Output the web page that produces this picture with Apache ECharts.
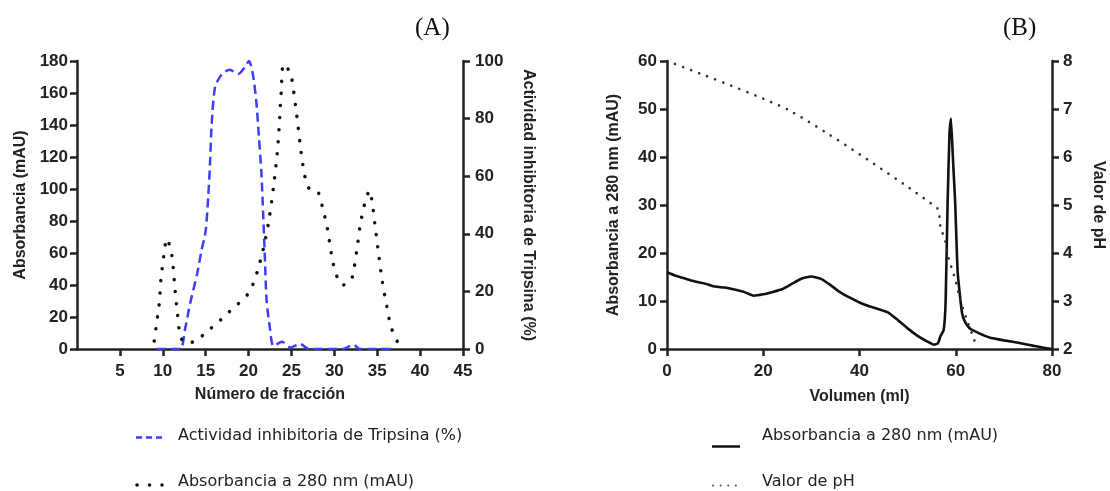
<!DOCTYPE html>
<html>
<head>
<meta charset="utf-8">
<script src="https://cdn.jsdelivr.net/npm/echarts@6/dist/echarts.min.js"></script>
<style>
html,body{margin:0;padding:0;background:#fff;}
#chart{width:1110px;height:491px;}
</style>
</head>
<body>
<div id="chart"></div>
<script>
// ---------- Panel A data ----------
const fracAbsA = [9.0, 9.2, 9.4, 9.6, 9.8, 10.0, 10.2, 10.45, 10.9, 11.15, 11.4, 11.7, 12.1, 13.0, 14.3, 15.4, 16.5, 17.5, 18.5, 19.6, 20.4, 21.0, 21.7, 22.3, 22.9, 23.4, 23.8, 24.05, 24.6, 25.0, 25.6, 26.2, 26.6, 27.1, 28.1, 28.6, 29.2, 29.8, 30.4, 31.0, 31.6, 32.1, 32.6, 33.0, 33.5, 34.1, 34.4, 34.8, 35.2, 35.6, 36.1, 36.5, 37.0, 37.4, 38.5];
const absA     = [5, 13, 21, 29, 45, 53, 62, 69, 63, 55, 39, 23, 7, 3.5, 7, 12, 17, 22, 27, 32, 39, 48, 62, 78, 101, 126, 160, 178, 175, 170, 147, 120, 107, 100, 98, 89, 75, 55, 44, 40, 41, 45, 61, 77, 90, 99, 92, 75, 58, 42, 27, 16, 8, 4.5, 3.5];

const fracActA = [9.3, 12.0, 12.6, 13.2, 14.0, 14.5, 15.0, 15.3, 15.5, 15.7, 16.1, 16.9, 17.8, 18.8, 19.6, 20.05, 20.5, 20.9, 21.2, 21.5, 21.7, 21.9, 22.1, 22.5, 22.9, 23.9, 24.9, 26.0, 27.0, 31.0, 32.2, 33.0, 36.9];
const actA     = [0, 0, 7, 16, 26, 34, 41, 53, 64, 78, 91, 95.5, 97, 95.5, 98, 100, 95.5, 86, 74, 61, 47, 32, 17, 7, 1, 2.5, 0.5, 1.8, 0, 0, 1.5, 0, 0];

// ---------- Panel B data ----------
const volAbsB = [0, 2, 4, 6, 8, 10, 12, 14, 16, 18, 20, 22, 24, 26, 28, 30, 32, 34, 36, 38, 40, 42, 44, 46, 48, 50, 52, 54, 55.5, 56.3, 56.8, 57.5, 57.9, 58.3, 58.7, 59.0, 59.4, 59.9, 60.4, 61.3, 62, 63, 65, 67, 70, 73, 76, 78, 80];
const absB    = [16.0, 15.2, 14.6, 14.0, 13.6, 13.0, 12.8, 12.4, 11.9, 11.1, 11.4, 11.9, 12.5, 13.6, 14.7, 15.1, 14.6, 13.3, 11.8, 10.7, 9.7, 8.9, 8.3, 7.6, 6.0, 4.3, 2.8, 1.6, 0.9, 1.2, 2.6, 4.0, 10, 30, 45, 48, 40, 30, 16, 7.5, 5.5, 4.2, 3.2, 2.4, 1.8, 1.3, 0.7, 0.3, 0];

const volPhB = [0, 25.6, 56.1, 56.8, 57.8, 58.5, 59.9, 60.9, 62.3, 63.7, 64.4];
const phB    = [8.0, 6.96, 4.94, 4.56, 4.25, 3.9, 3.45, 3.03, 2.61, 2.23, 2.02];

// ---------- Text ----------
const xNameA = 'Número de fracción';
const yNameA = 'Absorbancia (mAU)';
const y2NameA = 'Actividad inhibitoria de Tripsina (%)';
const xNameB = 'Volumen (ml)';
const yNameB = 'Absorbancia a 280 nm (mAU)';
const y2NameB = 'Valor de pH';
const legActA = 'Actividad inhibitoria de Tripsina (%)';
const legAbsA = 'Absorbancia a 280 nm (mAU)';
const legAbsB = 'Absorbancia a 280 nm (mAU)';
const legPhB = 'Valor de pH';

const pairs = (xs, ys) => xs.map((x, i) => [x, ys[i]]);

const TICKFONT = {fontFamily: 'Liberation Sans, Arial, sans-serif', fontWeight: 'bold', fontSize: 17, color: '#222'};
const NAMEFONT = {fontFamily: 'Liberation Sans, Arial, sans-serif', fontWeight: 'bold', fontSize: 16, color: '#222'};
const AXLINE = {show: true, lineStyle: {color: '#222', width: 2.5}};
const AXTICK = {show: true, inside: false, length: 7, lineStyle: {color: '#222', width: 2.5}};

function xAx(gi, min, max, interval, name, showMin, gap) {
  return {
    type: 'value', gridIndex: gi, min: min, max: max, interval: interval,
    name: name, nameLocation: 'middle', nameGap: gap, nameTextStyle: NAMEFONT,
    axisLine: AXLINE, axisTick: AXTICK, splitLine: {show: false},
    axisLabel: Object.assign({margin: 14, showMinLabel: showMin}, TICKFONT)
  };
}
function yAx(gi, pos, min, max, interval, name, gap, rot, margin) {
  return {
    type: 'value', gridIndex: gi, position: pos, min: min, max: max, interval: interval,
    name: name, nameLocation: 'middle', nameGap: gap, nameRotate: rot, nameTextStyle: NAMEFONT,
    axisLine: AXLINE, axisTick: AXTICK, splitLine: {show: false},
    axisLabel: Object.assign({margin: margin}, TICKFONT)
  };
}

const chart = echarts.init(document.getElementById('chart'), null, {renderer: 'canvas'});
const LEGFONT = '16px "DejaVu Sans", "Open Sans", sans-serif';

chart.setOption({
  animation: false,
  backgroundColor: '#fff',
  grid: [
    {left: 77, top: 61, width: 386, height: 288},
    {left: 667, top: 61, width: 385, height: 288}
  ],
  xAxis: [
    xAx(0, 0, 45, 5, xNameA, false, 38),
    xAx(1, 0, 80, 20, xNameB, true, 40)
  ],
  yAxis: [
    yAx(0, 'left', 0, 180, 20, yNameA, 48, 90, 9),
    yAx(0, 'right', 0, 100, 20, y2NameA, 57, -90, 12),
    yAx(1, 'left', 0, 60, 10, yNameB, 45, 90, 10),
    yAx(1, 'right', 2, 8, 1, y2NameB, 38, -90, 11)
  ],
  series: [
    {
      type: 'line', name: legActA, xAxisIndex: 0, yAxisIndex: 1,
      data: pairs(fracActA, actA), showSymbol: false, smooth: 0.25,
      lineStyle: {color: '#3d3dff', width: 2.5, type: [9, 5]}
    },
    {
      type: 'line', name: legAbsA, xAxisIndex: 0, yAxisIndex: 0,
      data: pairs(fracAbsA, absA), showSymbol: false, smooth: 0.25,
      lineStyle: {color: '#111', width: 3.5, type: [0.1, 12], cap: 'round'}
    },
    {
      type: 'line', name: legAbsB, xAxisIndex: 1, yAxisIndex: 2,
      data: pairs(volAbsB, absB), showSymbol: false, smooth: 0.15,
      lineStyle: {color: '#111', width: 2.6}
    },
    {
      type: 'line', name: legPhB, xAxisIndex: 1, yAxisIndex: 3,
      data: pairs(volPhB, phB), showSymbol: false, smooth: 0.2,
      lineStyle: {color: '#333', width: 2.6, type: [0.1, 8.5], cap: 'round'}
    }
  ],
  graphic: [
    {type: 'text', left: 415, top: 16, style: {text: '(A)', font: '25px "Liberation Serif", serif', fill: '#111'}},
    {type: 'text', left: 1003, top: 16, style: {text: '(B)', font: '25px "Liberation Serif", serif', fill: '#111'}},
    {type: 'line', shape: {x1: 136, y1: 437.5, x2: 163, y2: 437.5}, style: {stroke: '#3d3dff', lineWidth: 2.5, lineDash: [6, 4]}},
    {type: 'text', x: 178, y: 436, style: {text: legActA, font: LEGFONT, fill: '#222', textVerticalAlign: 'middle'}},
    {type: 'line', shape: {x1: 137, y1: 485, x2: 162, y2: 485}, style: {stroke: '#111', lineWidth: 3.5, lineDash: [0.1, 12.4], lineCap: 'round'}},
    {type: 'text', x: 178, y: 482, style: {text: legAbsA, font: LEGFONT, fill: '#222', textVerticalAlign: 'middle'}},
    {type: 'line', shape: {x1: 712, y1: 446.5, x2: 740, y2: 446.5}, style: {stroke: '#111', lineWidth: 2.5}},
    {type: 'text', x: 762, y: 436, style: {text: legAbsB, font: LEGFONT, fill: '#222', textVerticalAlign: 'middle'}},
    {type: 'line', shape: {x1: 713, y1: 485.5, x2: 740, y2: 485.5}, style: {stroke: '#555', lineWidth: 2, lineDash: [0.1, 7.5], lineCap: 'round'}},
    {type: 'text', x: 762, y: 482, style: {text: legPhB, font: LEGFONT, fill: '#222', textVerticalAlign: 'middle'}}
  ]
});
</script>
</body>
</html>
